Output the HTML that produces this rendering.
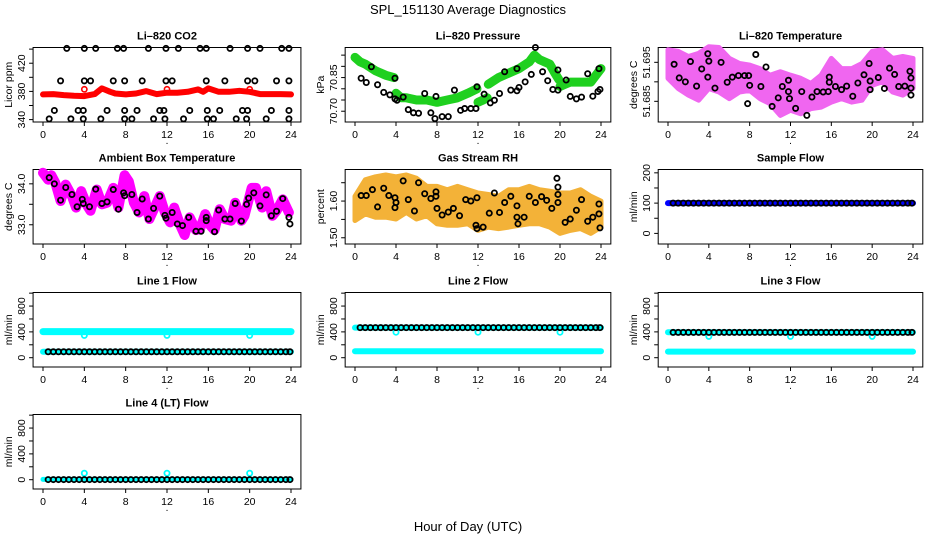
<!DOCTYPE html>
<html><head><meta charset="utf-8"><style>
html,body{margin:0;padding:0;background:#fff}
svg{display:block;font-family:"Liberation Sans",Arial,sans-serif}
</style></head><body>
<svg id="chart" width="936" height="540" viewBox="0 0 936 540" xmlns="http://www.w3.org/2000/svg">
<text x="468" y="14" text-anchor="middle" font-size="13">SPL_151130  Average Diagnostics</text>
<text x="468" y="531" text-anchor="middle" font-size="13">Hour of Day (UTC)</text>
</svg>
<script>
// ---- data ----
const xTicks=[0,4,8,12,16,20,24];
// CO2
const co2BandHours=[0,1,2,3,4,5,5.7,6.5,7,8,9,10,11,12,13,14,15,15.5,16,17,18,19,20,21,22,23,24];
const co2BandValues=[375.7,376.2,374.8,373.8,373.3,376.2,384.3,379.5,377.1,375.7,377.1,380.5,376.2,378.1,378.1,379.5,382.9,379.5,384.3,379.5,379.5,380.9,379.5,376.2,376.2,376.2,375.7];
const co2RedHours=[4,12,20];
const co2RedValues=[383,383,383];
const co2BlackHours=[2.3,4,5.1,7.2,7.8,10.2,11.9,13.1,15.2,15.8,18.1,19.8,21.0,23.1,23.8,1.7,4,4.6,6.8,7.9,9.6,11.9,12.5,15.8,17.6,19.8,20.5,22.6,23.8,1.1,3.4,3.9,6.2,7.9,9.1,11.3,11.7,14.2,15.9,17.1,19.3,19.8,22.1,23.8,0.6,2.7,3.9,5.6,7.9,8.6,10.7,11.8,13.6,15.9,16.5,18.7,19.7,21.6,23.8];
const co2BlackValues=[441,441,441,441,441,441,441,441,441,441,441,441,441,441,441,395,395,395,395,395,395,395,395,395,395,395,395,395,395,353,353,353,353,353,353,353,353,353,353,353,353,353,353,353,341,341,341,341,341,341,341,341,341,341,341,341,341,341,341];
// Pressure
const presBandHours=[0,0.5,1,2,3,3.8,null,4,4.5,5,6,7,8,9,10,11,11.9,null,12,12.5,12.9,null,13,14,15,16,17,17.5,18,19,19.5,19.9,null,20,20.5,21,22,23,23.5,24];
const presBandValues=[70.94,70.92,70.91,70.88,70.86,70.85,null,70.78,70.76,70.76,70.75,70.75,70.74,70.75,70.76,70.78,70.80,null,70.74,70.75,70.76,null,70.82,70.85,70.87,70.89,70.92,70.95,70.93,70.91,70.87,70.84,null,70.81,70.82,70.83,70.83,70.83,70.86,70.89];
const presBlackHours=[0.6,1.1,1.6,2.2,2.8,3.4,3.9,3.9,4.1,4.7,5.2,5.7,6.2,6.8,7.4,7.8,7.9,8.5,9.1,9.7,10.3,10.7,11.3,11.8,11.9,12.6,13.2,13.6,14.1,14.6,15.2,15.8,15.8,16.0,16.6,17.2,17.6,18.3,18.8,19.3,19.8,19.8,20.6,21.0,21.6,22.1,22.7,23.2,23.7,23.8,23.9];
const presBlackValues=[70.847,70.828,70.898,70.818,70.784,70.773,70.847,70.755,70.749,70.763,70.707,70.693,70.691,70.779,70.693,70.667,70.766,70.676,70.676,70.794,70.704,70.712,70.712,70.712,70.809,70.776,70.737,70.749,70.779,70.876,70.794,70.890,70.791,70.806,70.831,70.864,70.984,70.876,70.836,70.797,70.794,70.884,70.839,70.766,70.755,70.763,70.867,70.767,70.788,70.890,70.797];
// Li-820 temperature (cloud envelope + black points)
const tempCloudHours=[0,1,2,3,4,5,6,7,8,9,10,11,12,13,14,15,16,17,18,19,20,21,22,23,24];
const tempCloudUpper=[51.6982,51.6978,51.6965,51.6973,51.6990,51.6988,51.6960,51.6947,51.6943,51.6934,51.6917,51.6926,51.6917,51.6909,51.6896,51.6917,51.6960,51.6934,51.6934,51.6947,51.6978,51.6982,51.6960,51.6965,51.6960];
const tempCloudLower=[51.6909,51.6883,51.6866,51.6853,51.6883,51.6874,51.6857,51.6874,51.6878,51.6857,51.6844,51.6814,51.6827,51.6818,51.6831,51.6835,51.6848,51.6857,51.6848,51.6853,51.6891,51.6900,51.6874,51.6866,51.6883];
const tempBlackHours=[0.6,1.1,1.7,2.2,2.8,3.3,3.9,3.9,4,4.6,5.2,5.8,6.3,6.9,7.5,7.9,7.8,8,8.6,9.1,9.6,10.2,10.8,11.2,11.8,11.8,11.9,12.5,13.1,13.6,14.1,14.6,15.2,15.7,15.8,15.8,16.4,17.0,17.5,18.1,18.6,19.2,19.7,19.8,19.8,20.6,21.2,21.7,22.2,22.6,23.2,23.7,23.8,23.8,23.8];
const tempBlackValues=[51.6945,51.6910,51.6900,51.6952,51.6889,51.6933,51.6912,51.6972,51.6953,51.6884,51.6950,51.6899,51.6912,51.6916,51.6916,51.6916,51.6844,51.6891,51.6970,51.6888,51.6938,51.6837,51.6859,51.6888,51.6904,51.6875,51.6857,51.6832,51.6875,51.6814,51.6861,51.6875,51.6874,51.6875,51.6912,51.6899,51.6888,51.6880,51.6889,51.6863,51.6897,51.6918,51.6947,51.6902,51.6880,51.6911,51.6883,51.6935,51.6919,51.6888,51.6889,51.6927,51.6910,51.6866,51.6884];
// Ambient box temperature
const ambHours=[0,0.5,0.8,1.2,1.7,2.2,2.8,3.2,3.7,4.2,4.6,5.2,5.7,6.2,6.8,7.3,7.9,8.3,8.8,9.3,9.8,10.3,10.8,11.3,11.8,12.3,12.7,13.3,13.7,14.2,14.8,15.2,15.7,16.2,16.6,17.1,17.6,18.2,18.6,19.2,19.5,20.2,20.6,21.2,21.6,22.2,22.6,23.2,23.8];
const ambValues=[34.27,34.10,34.21,34.02,33.58,33.98,33.70,33.42,33.82,33.50,33.34,33.86,33.50,33.54,33.90,33.42,34.21,34.06,33.54,33.30,33.70,33.14,33.42,33.70,33.30,33.06,33.42,32.98,32.75,33.18,32.87,32.90,33.26,32.98,32.87,33.38,33.14,33.10,33.54,33.10,33.22,33.90,33.90,33.42,33.82,33.22,33.34,33.62,33.30];
const ambBlackHours=[0.6,1.1,1.7,2.2,2.8,3.3,3.8,3.9,4.5,5.1,5.7,6.2,6.8,7.3,7.8,7.9,8.6,9.1,9.6,10.2,10.7,11.3,11.8,11.9,12.5,13.0,13.5,14.1,14.8,15.3,15.8,15.8,16.6,17.0,17.6,18.1,18.6,19.2,19.7,19.9,20.4,21.0,21.6,22.1,22.6,23.2,23.8,23.9];
const ambBlackValues=[34.15,34.0,33.60,33.91,33.74,33.44,33.62,33.52,33.44,33.87,33.52,33.56,33.86,33.38,33.78,33.71,33.74,33.30,33.63,33.14,33.40,33.70,33.23,33.16,33.30,33.02,32.98,33.18,32.84,32.84,33.18,33.10,32.83,33.36,33.14,33.14,33.52,33.09,33.50,33.65,33.78,33.46,33.73,33.22,33.33,33.64,33.18,33.02];
// Gas stream RH
const rhCloudHours=[0,1,2,3,4,5,6,7,8,9,10,11,12,13,14,15,16,17,18,19,20,21,22,23,24];
const rhCloudUpper=[1.613,1.658,1.666,1.671,1.666,1.671,1.662,1.640,1.640,1.631,1.640,1.631,1.622,1.618,1.613,1.631,1.631,1.640,1.631,1.627,1.622,1.622,1.631,1.613,1.600];
const rhCloudLower=[1.547,1.565,1.556,1.556,1.551,1.569,1.551,1.560,1.538,1.534,1.534,1.538,1.520,1.529,1.525,1.529,1.534,1.538,1.538,1.529,1.512,1.520,1.525,1.512,1.529];
const rhBlackHours=[0.6,1.1,1.7,2.2,2.8,3.3,3.9,3.9,4.0,4.7,5.2,5.8,6.2,6.8,7.4,7.9,7.9,8.0,8.5,9.1,9.6,10.2,10.8,11.3,11.9,11.8,11.9,12.5,13.1,13.6,14.1,14.6,15.2,15.8,15.8,15.9,16.5,17.0,17.6,18.2,18.7,19.2,19.7,19.8,19.8,19.8,20.5,21.0,21.6,22.1,22.7,23.2,23.8,23.8,23.9];
const rhBlackValues=[1.615,1.615,1.631,1.584,1.635,1.615,1.582,1.609,1.596,1.655,1.604,1.573,1.650,1.620,1.607,1.613,1.625,1.580,1.562,1.570,1.580,1.560,1.604,1.600,1.609,1.534,1.525,1.529,1.567,1.622,1.569,1.596,1.613,1.587,1.556,1.538,1.556,1.613,1.596,1.612,1.602,1.580,1.662,1.638,1.618,1.596,1.542,1.551,1.575,1.604,1.545,1.556,1.592,1.565,1.527];
// Flows
const flowHours=[0.5,1,1.5,2,2.5,3,3.5,4,4.5,5,5.5,6,6.5,7,7.5,8,8.5,9,9.5,10,10.5,11,11.5,12,12.5,13,13.5,14,14.5,15,15.5,16,16.5,17,17.5,18,18.5,19,19.5,20,20.5,21,21.5,22,22.5,23,23.5,23.9];
const sampleBlack=[100,100,100,100,100,100,100,100,100,100,100,100,100,100,100,100,100,100,100,100,100,100,100,100,100,100,100,100,100,100,100,100,100,100,100,100,100,100,100,100,100,100,100,100,100,100,100,100];
const line1Black=[92,92,92,92,92,92,92,92,92,92,92,92,92,92,92,92,92,92,92,92,92,92,92,92,92,92,92,92,92,92,92,92,92,92,92,92,92,92,92,92,92,92,92,92,92,92,92,92];
const line2Black=[466,466,466,466,466,466,466,466,466,466,466,466,466,466,466,466,466,466,466,466,466,466,466,466,466,466,466,466,466,466,466,466,466,466,466,466,466,466,466,466,466,466,466,466,466,466,466,466];
const line3Black=[392,392,392,392,392,392,392,392,392,392,392,392,392,392,392,392,392,392,392,392,392,392,392,392,392,392,392,392,392,392,392,392,392,392,392,392,392,392,392,392,392,392,392,392,392,392,392,392];
const line4Black=[2,2,2,2,2,2,2,2,2,2,2,2,2,2,2,2,2,2,2,2,2,2,2,2,2,2,2,2,2,2,2,2,2,2,2,2,2,2,2,2,2,2,2,2,2,2,2,2];
const bandHours=[0,24];
const sampleBlue=[100,100];
const line1CyanHigh=[405,405];
const line1CyanLow=[92,92];
const line2CyanHigh=[466,466];
const line2CyanLow=[100,100];
const line3CyanHigh=[395,395];
const line3CyanLow=[95,95];
const line4Cyan=[5,5];
const dipHours=[4,12,20];
const line1Dips=[345,345,345];
const line2Dips=[395,395,395];
const line3Dips=[330,330,330];
const line4Dips=[100,100,100];

// ---- drawing ----
const NS='http://www.w3.org/2000/svg';
const svg=document.getElementById('chart');
const cols=[[43,291],[355,601],[668,913]];
const rowTops=[47.5,169.5,292.5,414.5];
const PH=74.5;
function mk(tag,attrs,parent){const e=document.createElementNS(NS,tag);for(const k in attrs)e.setAttribute(k,attrs[k]);(parent||svg).appendChild(e);return e;}
function panel(name,c,r,title,ylab,dom,ticks,labels){
  const g=mk('g',{});
  
  
  const [x0,x1]=cols[c];const pad=(x1-x0)*0.04;
  const top=rowTops[r],bot=top+PH,left=x0-pad,right=x1+pad;
  const X=h=>x0+h*(x1-x0)/24;
  const Y=v=>bot-(v-dom[0])/(dom[1]-dom[0])*PH;
  const fr=mk('rect',{x:left,y:top,width:right-left,height:PH,fill:'none',stroke:'#000','stroke-width':1},g);
  
  
  const t=mk('text',{x:(left+right)/2,y:top-8,'text-anchor':'middle','font-size':11,'font-weight':'bold'},g);t.textContent=title;
  
  
  xTicks.forEach(v=>{mk('line',{x1:X(v),x2:X(v),y1:bot,y2:bot+4,stroke:'#000'},g);
    const l=mk('text',{x:X(v),y:bot+16,'text-anchor':'middle','font-size':10.5},g);l.textContent=v;
    
    });
  ticks.forEach(v=>{mk('line',{x1:left-4,x2:left,y1:Y(v),y2:Y(v),stroke:'#000'},g);});
  labels.forEach(v=>{const l=mk('text',{transform:`translate(${left-8},${Y(+v)}) rotate(-90)`,'text-anchor':'middle','font-size':10.5},g);l.textContent=v;
    
    });
  const yl=mk('text',{transform:`translate(${left-21},${(top+bot)/2}) rotate(-90)`,'text-anchor':'middle','font-size':10.5},g);yl.textContent=ylab;
  
  
  const d=mk('text',{x:(left+right)/2,y:bot+22,'text-anchor':'middle','font-size':10},g);d.textContent='.';
  const plot=mk('g',{},g);
  return {X,Y,g:plot};
}
function pts(p,hs,vs,color,r,sw,name){
  hs.forEach((h,i)=>{const e=mk('circle',{cx:p.X(h),cy:p.Y(vs[i]),r:r||2.6,fill:'none',stroke:color,'stroke-width':sw||1.6},p.g);
    
    });
}
function band(p,hs,vs,color,w,name){
  let segs=[[]];
  hs.forEach((h,i)=>{if(h===null||vs[i]===null){segs.push([]);}else segs[segs.length-1].push(p.X(h).toFixed(1)+','+p.Y(vs[i]).toFixed(1));});
  segs.filter(s=>s.length).forEach(s=>{const e=mk('polyline',{points:s.join(' '),fill:'none',stroke:color,'stroke-width':w,'stroke-linejoin':'round','stroke-linecap':'round'},p.g);
    
    });
}
function cloud(p,hs,up,lo,color,name){
  const a=hs.map((h,i)=>p.X(h).toFixed(1)+','+p.Y(up[i]).toFixed(1));
  const b=hs.map((h,i)=>p.X(h).toFixed(1)+','+p.Y(lo[i]).toFixed(1)).reverse();
  const e=mk('polygon',{points:a.concat(b).join(' '),fill:color,stroke:color,'stroke-width':5,'stroke-linejoin':'round'},p.g);
  
  
}
// CO2
let p=panel('co2-panel',0,0,'Li\u2013820 CO2','Licor ppm',[336.6,442.3],[340,360,380,400,420,440],['340','380','420']);
band(p,co2BandHours,co2BandValues,'#ff0000',6,'co2-red-band');
pts(p,co2RedHours,co2RedValues,'#ff0000',2.6,1.6,'co2-red-point');
pts(p,co2BlackHours,co2BlackValues,'#000',2.6,1.8,'co2-black-point');
// Pressure
p=panel('pressure-panel',1,0,'Li\u2013820 Pressure','kPa',[70.652,70.984],[70.70,70.75,70.80,70.85,70.90,70.95],['70.70','70.85']);
band(p,presBandHours,presBandValues,'#1fd01f',9,'pressure-green-band');
pts(p,presBlackHours,presBlackValues,'#000',2.6,1.8,'pressure-black-point');
// Temperature
p=panel('li820-temperature-panel',2,0,'Li\u2013820 Temperature','degrees C',[51.6797,51.6988],[51.685,51.690,51.695],['51.685','51.695']);
cloud(p,tempCloudHours,tempCloudUpper,tempCloudLower,'#f066f0','temperature-magenta-cloud');
pts(p,tempBlackHours,tempBlackValues,'#000',2.6,1.8,'temperature-black-point');
// Ambient
p=panel('ambient-temperature-panel',0,1,'Ambient Box Temperature','degrees C',[32.53,34.35],[33.0,33.5,34.0],['33.0','34.0']);
band(p,ambHours,ambValues,'#ff00ff',10,'ambient-magenta-band');
pts(p,ambBlackHours,ambBlackValues,'#000',2.6,1.8,'ambient-black-point');
// RH
p=panel('gas-stream-rh-panel',1,1,'Gas Stream RH','percent',[1.483,1.686],[1.50,1.55,1.60,1.65],['1.50','1.60']);
cloud(p,rhCloudHours,rhCloudUpper,rhCloudLower,'#f3b238','rh-orange-cloud');
pts(p,rhBlackHours,rhBlackValues,'#000',2.6,1.8,'rh-black-point');
// Sample flow
p=panel('sample-flow-panel',2,1,'Sample Flow','ml/min',[-35,211],[0,50,100,150,200],['0','100','200']);
band(p,bandHours,sampleBlue,'#0000ff',6,'sample-blue-band');
pts(p,flowHours,sampleBlack,'#000',2.6,1.8,'sample-black-point');
const fdom=[-144,1010],ft=[0,200,400,600,800,1000],fl=['0','400','800'];
// Line 1
p=panel('line1-flow-panel',0,2,'Line 1 Flow','ml/min',fdom,ft,fl);
band(p,bandHours,line1CyanHigh,'#00ffff',7,'line1-cyan-high');
band(p,bandHours,line1CyanLow,'#00ffff',6,'line1-cyan-low');
pts(p,dipHours,line1Dips,'#00ffff',2.6,1.8,'line1-cyan-dip');
pts(p,flowHours,line1Black,'#000',2.6,1.8,'line1-black-point');
// Line 2
p=panel('line2-flow-panel',1,2,'Line 2 Flow','ml/min',fdom,ft,fl);
band(p,bandHours,line2CyanHigh,'#00ffff',6,'line2-cyan-high');
band(p,bandHours,line2CyanLow,'#00ffff',6,'line2-cyan-low');
pts(p,dipHours,line2Dips,'#00ffff',2.6,1.8,'line2-cyan-dip');
pts(p,flowHours,line2Black,'#000',2.6,1.8,'line2-black-point');
// Line 3
p=panel('line3-flow-panel',2,2,'Line 3 Flow','ml/min',fdom,ft,fl);
band(p,bandHours,line3CyanHigh,'#00ffff',6,'line3-cyan-high');
band(p,bandHours,line3CyanLow,'#00ffff',6,'line3-cyan-low');
pts(p,dipHours,line3Dips,'#00ffff',2.6,1.8,'line3-cyan-dip');
pts(p,flowHours,line3Black,'#000',2.6,1.8,'line3-black-point');
// Line 4
p=panel('line4-flow-panel',0,3,'Line 4 (LT) Flow','ml/min',fdom,ft,fl);
band(p,bandHours,line4Cyan,'#00ffff',5,'line4-cyan-band');
pts(p,dipHours,line4Dips,'#00ffff',2.6,1.8,'line4-cyan-spike');
pts(p,flowHours,line4Black,'#000',2.6,1.8,'line4-black-point');
</script>
</body></html>
